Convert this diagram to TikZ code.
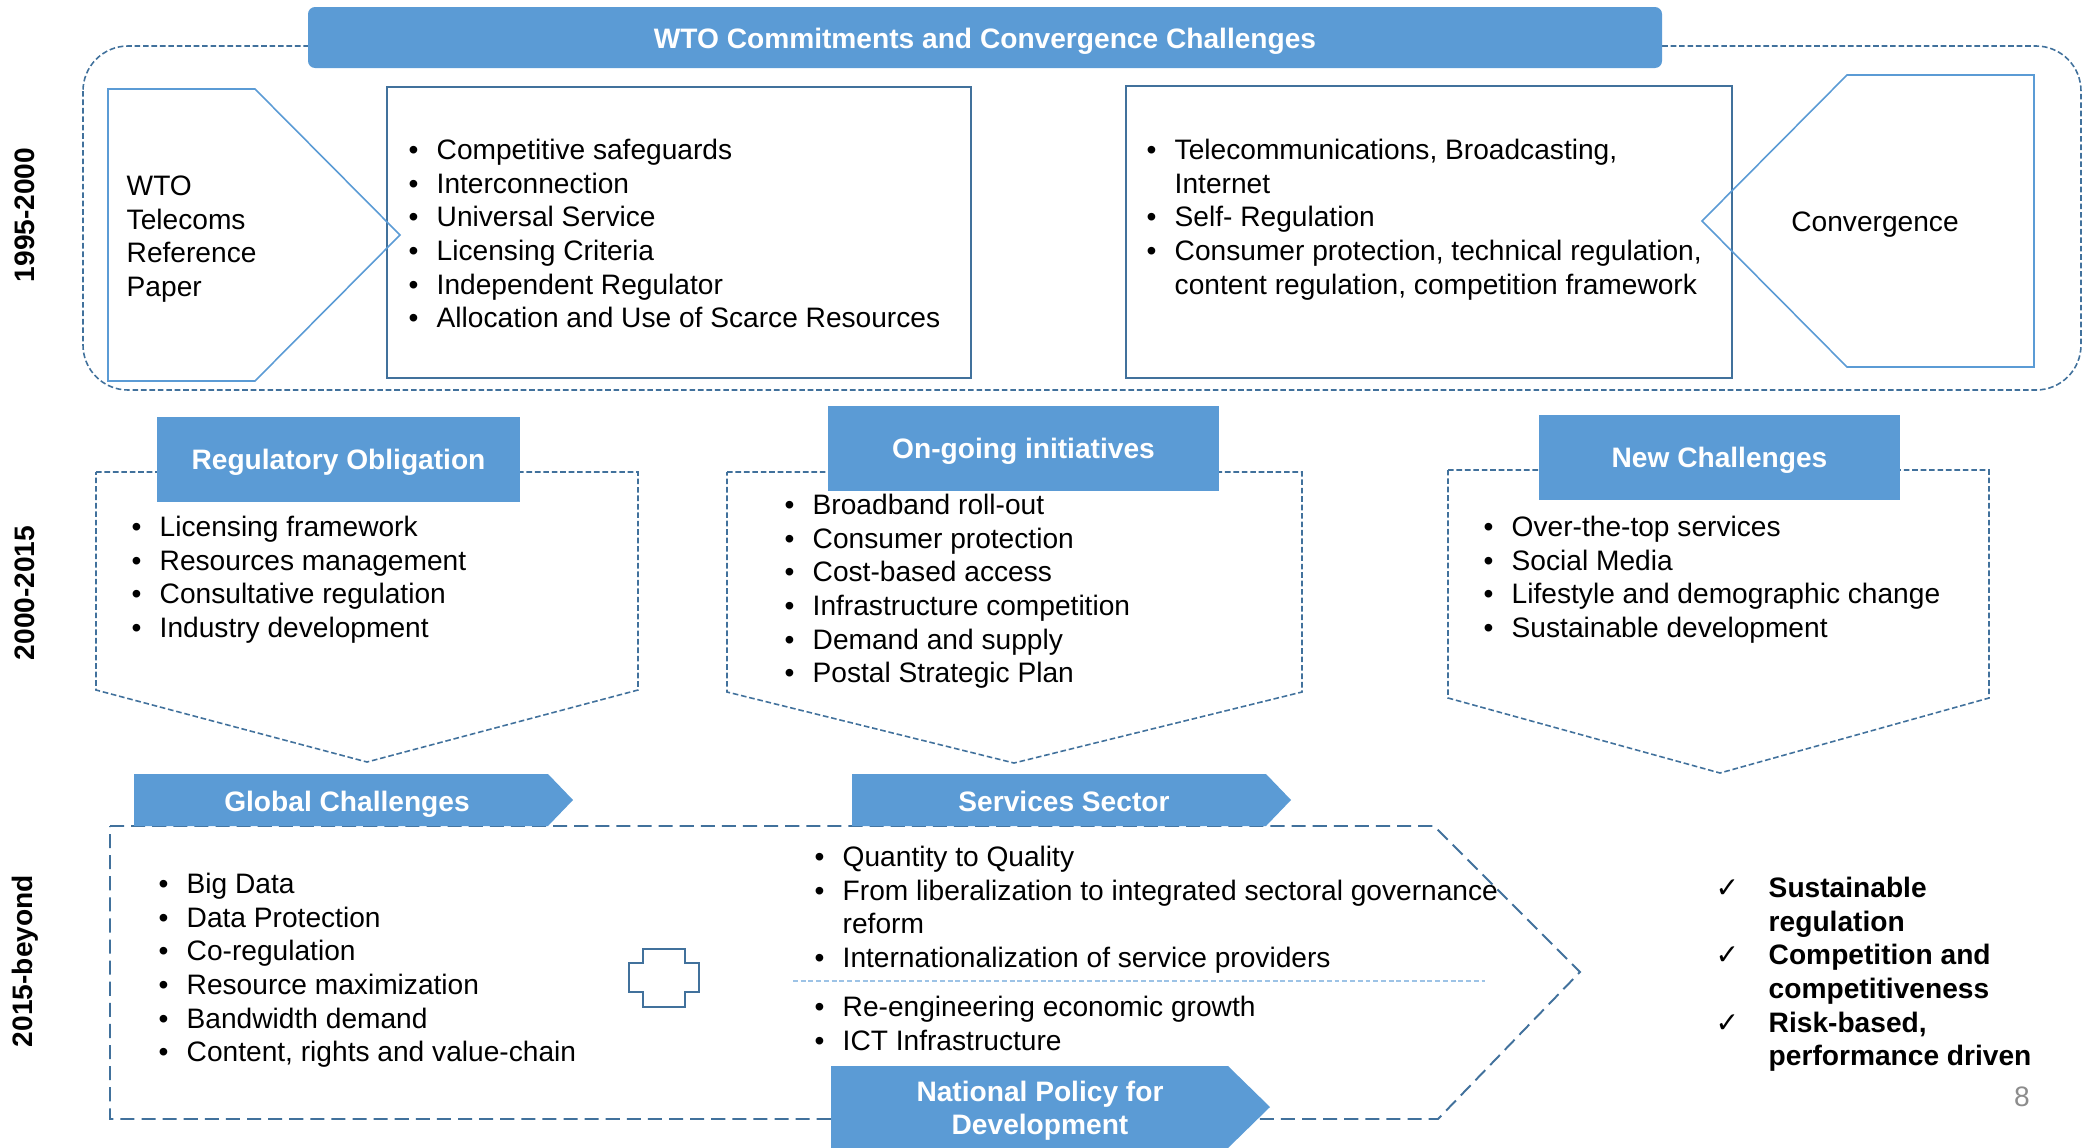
\documentclass[tikz,border=0pt]{standalone}
\usepackage{fontspec}
\setmainfont{Liberation Sans}
\newfontfamily\checkfont{DejaVu Sans}

\definecolor{bannerblue}{HTML}{5B9BD5}
\definecolor{edgeblue}{HTML}{41719C}
\definecolor{sepblue}{HTML}{9DC3E6}

% list helpers: bullet, check mark, continuation line
\newcommand{\itm}{\strut\makebox[0.28cm][l]{\textbullet}}
\newcommand{\chk}{\strut\makebox[0.43cm][l]{\hspace*{-0.1cm}\checkfont\mdseries ✓}}
\newcommand{\cnt}[1][0.28cm]{\strut\hspace*{#1}}

\tikzset{
  txt/.style={font=\fontsize{8}{9.56}\selectfont},
  lst/.style={txt, anchor=north west, inner sep=0pt, align=left},
  hdr/.style={font=\fontsize{8}{9.56}\selectfont\bfseries, text=white, align=center, inner sep=0pt, yshift=-0.9pt},
  era/.style={font=\fontsize{8}{9.56}\selectfont\bfseries, rotate=90, inner sep=0pt},
  band/.style={fill=bannerblue, draw=none},
  finedash/.style={draw=edgeblue, line width=0.45pt, dash pattern=on 1.6pt off 0.8pt},
  longdash/.style={draw=edgeblue, line width=0.55pt, dash pattern=on 4pt off 2pt},
  boxline/.style={draw=edgeblue, line width=0.6pt, fill=white},
  tagline/.style={draw=bannerblue, line width=0.45pt},
}

\begin{document}
\begin{tikzpicture}[x=0.01cm,y=-0.01cm]
\useasboundingbox (0,0) rectangle (2090,1148);

% 1995-2000
\draw[finedash, rounded corners=12.8pt] (83,46) rectangle (2081,390);
\draw[band, rounded corners=2pt] (308,7) rectangle (1662,68);
\node[hdr] (title) at (985,38) {WTO Commitments and Convergence Challenges};
\draw[boxline] (387,87) rectangle (971,378);
\draw[boxline] (1126,86) rectangle (1732,378);
\draw[tagline] (108,89) -- (255,89) -- (400,235) -- (255,381) -- (108,381) -- cycle;
\draw[tagline] (1702,221) -- (1847,75) -- (2034,75) -- (2034,367) -- (1847,367) -- cycle;
\node[lst] (wto) at (126,171.5) {\strut WTO\\\strut Telecoms\\\strut Reference\\\strut Paper};
\node[lst] (refpaper) at (408,135.5) {\itm Competitive safeguards\\\itm Interconnection\\\itm Universal Service\\\itm Licensing Criteria\\\itm Independent Regulator\\\itm Allocation and Use of Scarce Resources};
\node[lst] (convlist) at (1146,135.5) {\itm Telecommunications, Broadcasting,\\\cnt Internet\\\itm Self- Regulation\\\itm Consumer protection, technical regulation,\\\cnt content regulation, competition framework};
\node[txt] (conv) at (1875,225) {Convergence};
\node[era] (era1) at (25,215) {1995-2000};

% 2000-2015
\draw[finedash] (96,472) -- (638,472) -- (638,690) -- (367,762) -- (96,690) -- cycle;
\draw[finedash] (727,472) -- (1302,472) -- (1302,692) -- (1014,763) -- (727,692) -- cycle;
\draw[finedash] (1448,470) -- (1989,470) -- (1989,698) -- (1720,773) -- (1448,698) -- cycle;
\draw[band] (157,417) rectangle (520,502);
\draw[band] (828,406) rectangle (1219,491);
\draw[band] (1539,415) rectangle (1900,500);
\node[hdr] (regtitle) at (338.5,459.5) {Regulatory Obligation};
\node[hdr] (ongoingtitle) at (1023.5,448.5) {On-going initiatives};
\node[hdr] (newtitle) at (1719.5,457.5) {New Challenges};
\node[lst] (reglist) at (131,512.5) {\itm Licensing framework\\\itm Resources management\\\itm Consultative regulation\\\itm Industry development};
\node[lst] (ongoinglist) at (784,490.5) {\itm Broadband roll-out\\\itm Consumer protection\\\itm Cost-based access\\\itm Infrastructure competition\\\itm Demand and supply\\\itm Postal Strategic Plan};
\node[lst] (newlist) at (1483,512.5) {\itm Over-the-top services\\\itm Social Media\\\itm Lifestyle and demographic change\\\itm Sustainable development};
\node[era] (era2) at (25,593) {2000-2015};

% 2015-beyond
\draw[longdash] (110,826) -- (1434,826) -- (1580,972) -- (1438,1119) -- (110,1119) -- cycle;
\draw[band] (134,774) -- (548,774) -- (573,800) -- (548,826) -- (134,826) -- cycle;
\draw[band] (852,774) -- (1266,774) -- (1291,800) -- (1266,826) -- (852,826) -- cycle;
\draw[band] (831,1066) -- (1228,1066) -- (1270,1107) -- (1228,1148) -- (831,1148) -- cycle;
\node[hdr] (globaltitle) at (347,801) {Global Challenges};
\node[hdr] (servicetitle) at (1064,798) {Services Sector};
\node[hdr] (policytitle) at (1040,1107.5) {National Policy for\\Development};
\draw[boxline, line width=0.75pt] (643,949) -- (685,949) -- (685,963) -- (699,963) -- (699,992) -- (685,992) -- (685,1007) -- (643,1007) -- (643,992) -- (629,992) -- (629,963) -- (643,963) -- cycle;
\draw[sepblue, line width=0.45pt, dash pattern=on 1.4pt off 0.8pt] (793,981) -- (1485,981);
\node[lst] (globallist) at (158,869.5) {\itm Big Data\\\itm Data Protection\\\itm Co-regulation\\\itm Resource maximization\\\itm Bandwidth demand\\\itm Content, rights and value-chain};
\node[lst] (servicelist) at (814,842.5) {\itm Quantity to Quality\\\itm From liberalization to integrated sectoral governance\\\cnt reform\\\itm Internationalization of service providers};
\node[lst] (policylist) at (814,992.5) {\itm Re-engineering economic growth\\\itm ICT Infrastructure};
\node[lst, font=\fontsize{8}{9.56}\selectfont\bfseries] (outcomes) at (1725,873.5) {\chk Sustainable\\\cnt[0.43cm]regulation\\\chk Competition and\\\cnt[0.43cm]competitiveness\\\chk Risk-based,\\\cnt[0.43cm]performance driven};
\node[era] (era3) at (25,961) {2015-beyond};

\node[txt, text=black!45] (pagenum) at (2022,1097) {8};
\end{tikzpicture}
\end{document}
